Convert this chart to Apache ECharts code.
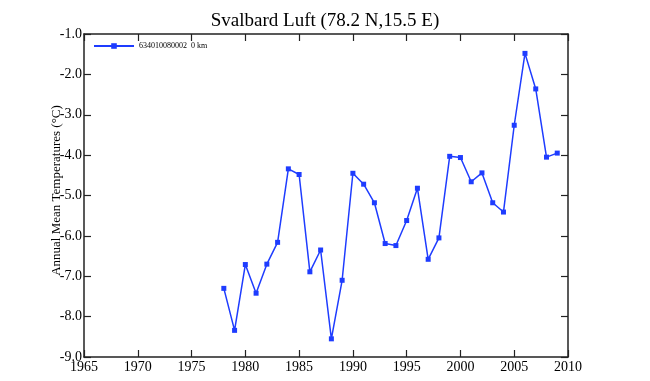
<!DOCTYPE html>
<html>
<head>
<meta charset="utf-8">
<script src="https://cdn.jsdelivr.net/npm/echarts@6/dist/echarts.min.js"></script>
<style>html,body{margin:0;padding:0;background:#fff}#c{width:650px;height:381px}</style>
</head>
<body>
<div id="c"></div>
<script>
const titleText = "Svalbard Luft (78.2 N,15.5 E)";
const seriesName = "634010080002  0 km";
const yAxisName = "Annual Mean Temperatures (\u00B0C)";
const years = [1978,1979,1980,1981,1982,1983,1984,1985,1986,1987,1988,1989,1990,1991,1992,1993,1994,1995,1996,1997,1998,1999,2000,2001,2002,2003,2004,2005,2006,2007,2008,2009];
const temps = [-7.30,-8.34,-6.71,-7.42,-6.70,-6.16,-4.34,-4.48,-6.89,-6.35,-8.55,-7.10,-4.45,-4.72,-5.18,-6.19,-6.24,-5.62,-4.82,-6.58,-6.05,-4.03,-4.06,-4.66,-4.44,-5.18,-5.41,-3.26,-1.48,-2.36,-4.05,-3.95];
const xMin = 1965, xMax = 2010, xStep = 5;
const yMin = -9, yMax = -1, yStep = 1;

const font = "'Liberation Serif', 'DejaVu Serif', serif";
const chart = echarts.init(document.getElementById('c'), null, {renderer: 'canvas'});
const axisLine = {show: true, lineStyle: {color: '#222', width: 1.5}};
const tick = {show: true, inside: true, length: 7, lineStyle: {color: '#222', width: 1.2}};
chart.setOption({
  animation: false,
  backgroundColor: '#fff',
  title: {text: titleText, left: 'center', top: 7,
    textStyle: {fontFamily: font, fontSize: 19, fontWeight: 'normal', color: '#000'}},
  legend: {left: 88, top: 37, itemWidth: 40, itemHeight: 7, itemGap: 5,
    data: [seriesName],
    textStyle: {fontFamily: font, fontSize: 8, color: '#000'}},
  grid: {left: 84, right: 82, top: 34, bottom: 24, containLabel: false},
  xAxis: [
    {type: 'value', min: xMin, max: xMax, interval: xStep, position: 'bottom',
     axisLine: axisLine, axisTick: tick, splitLine: {show: false},
     axisLabel: {fontFamily: font, fontSize: 14, color: '#000', margin: 3, formatter: v => String(v)}},
    {type: 'value', min: xMin, max: xMax, interval: xStep, position: 'top',
     axisLine: axisLine, axisTick: tick, splitLine: {show: false}, axisLabel: {show: false}}
  ],
  yAxis: [
    {type: 'value', min: yMin, max: yMax, interval: yStep, position: 'left',
     name: yAxisName, nameLocation: 'middle', nameGap: 21, nameMoveOverlap: false,
     nameTextStyle: {fontFamily: font, fontSize: 13, color: '#000', padding: [0, 0, 0, 10]},
     axisLine: axisLine, axisTick: tick, splitLine: {show: false},
     axisLabel: {fontFamily: font, fontSize: 14, color: '#000', margin: 2,
       formatter: v => v.toFixed(1)}},
    {type: 'value', min: yMin, max: yMax, interval: yStep, position: 'right',
     axisLine: axisLine, axisTick: tick, splitLine: {show: false}, axisLabel: {show: false}}
  ],
  series: [{
    name: seriesName, type: 'line',
    data: years.map((y, i) => [y, temps[i]]),
    symbol: 'rect', symbolSize: 5, showSymbol: true,
    lineStyle: {color: '#1e3cff', width: 1.5},
    itemStyle: {color: '#1e3cff'}
  }]
});
</script>
</body>
</html>
